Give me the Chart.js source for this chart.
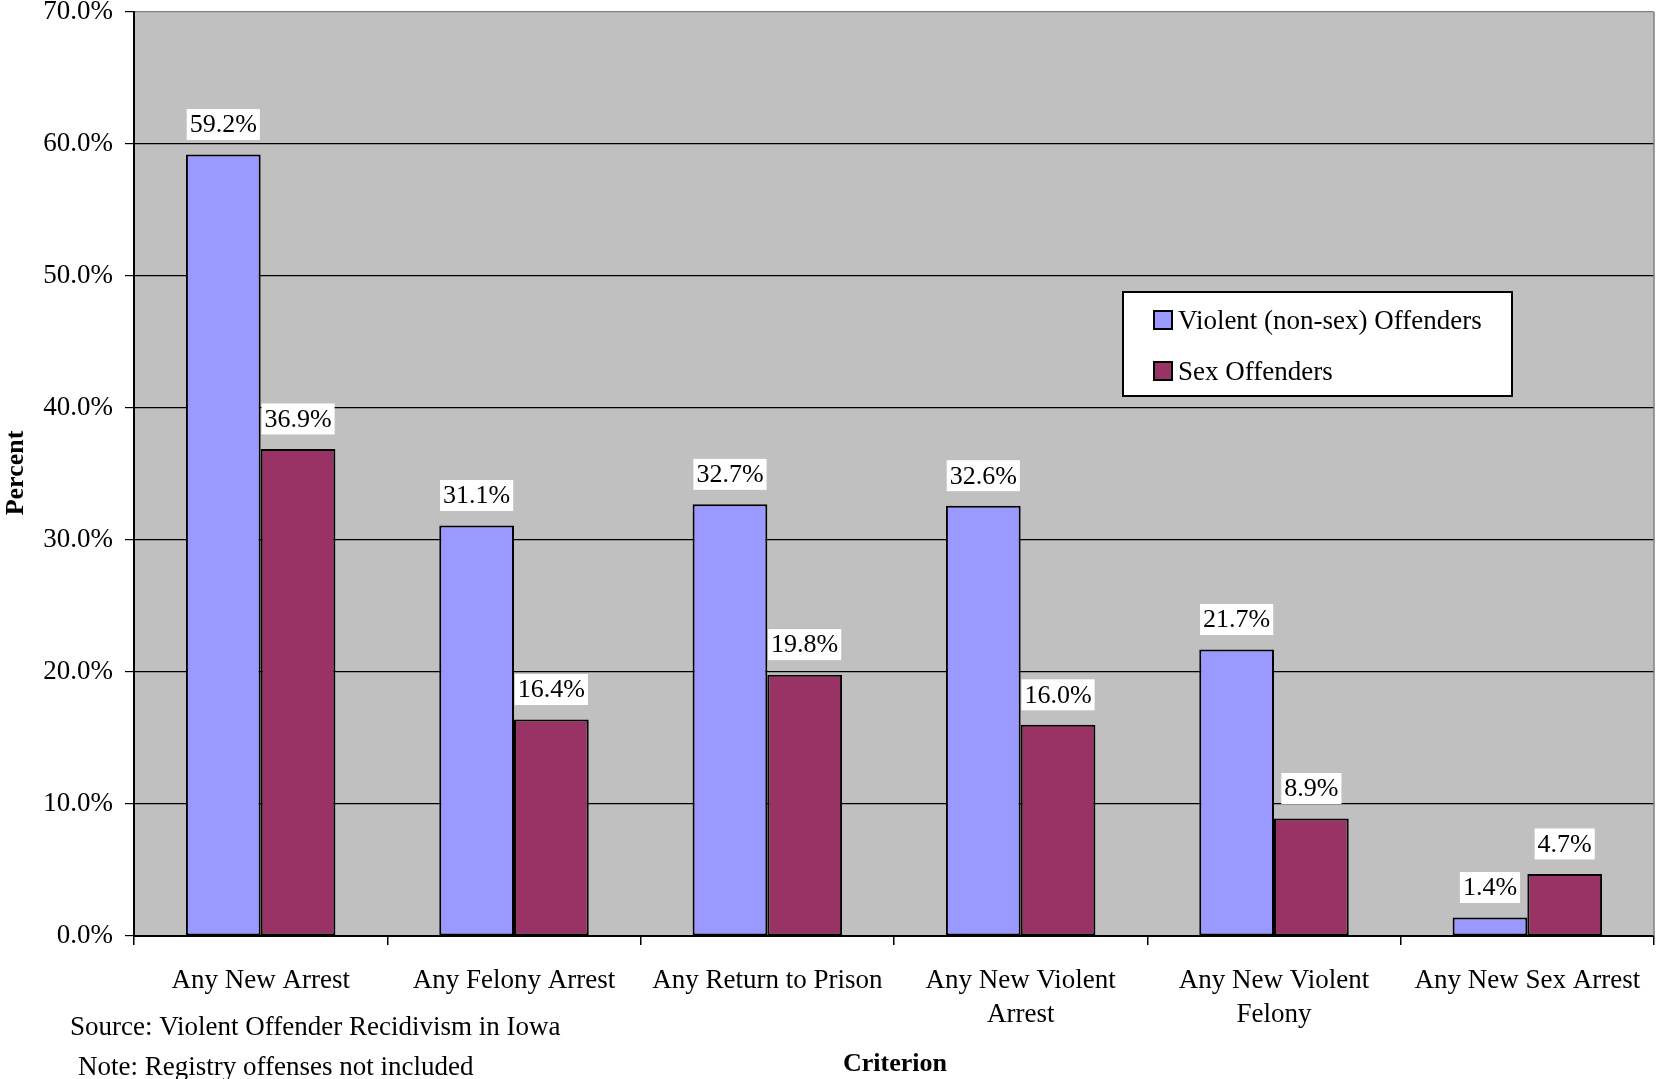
<!DOCTYPE html>
<html lang="en">
<head>
  <meta charset="UTF-8" />
  <title>Violent Offender Recidivism in Iowa</title>
  <script src="https://cdn.jsdelivr.net/npm/chart.js"></script>
  <style>
    body { margin: 0; background: #fff; }
    #wrap { width: 1660px; height: 1079px; }
  </style>
</head>
<body>
<div id="wrap"><canvas id="chart" width="1660" height="1079"></canvas></div>

<script>
  // data
  const categories = ['Any New Arrest', 'Any Felony Arrest', 'Any Return to Prison',
                      ['Any New Violent', 'Arrest'], ['Any New Violent', 'Felony'], 'Any New Sex Arrest'];
  const violentRates = [59.2, 31.1, 32.7, 32.6, 21.7, 1.4];
  const sexRates = [36.9, 16.4, 19.8, 16.0, 8.9, 4.7];
  const seriesNames = ['Violent (non-sex) Offenders', 'Sex Offenders'];
  const yMin = 0, yMax = 70, yStep = 10;

  const SERIF = "'Liberation Serif', 'Times New Roman', serif";

  // grey plot background + right border
  const plotBg = {
    id: 'plotBg',
    beforeDraw(chart) {
      const { ctx, chartArea: a } = chart;
      ctx.save();
      ctx.fillStyle = '#c0c0c0';
      ctx.fillRect(a.left, a.top, a.right - a.left, a.bottom - a.top);
      ctx.restore();
    },
    afterDraw(chart) {
      const { ctx, chartArea: a } = chart;
      ctx.save();
      ctx.strokeStyle = '#808080';
      ctx.lineWidth = 1.5;
      ctx.beginPath();
      ctx.moveTo(a.right, a.top);
      ctx.lineTo(a.right, a.bottom);
      ctx.stroke();
      ctx.restore();
    }
  };

  // value labels on white boxes above bars
  const valueLabels = {
    id: 'valueLabels',
    afterDatasetsDraw(chart) {
      const ctx = chart.ctx;
      ctx.save();
      ctx.font = '26px ' + SERIF;
      ctx.textAlign = 'center';
      ctx.textBaseline = 'middle';
      chart.data.datasets.forEach((ds, i) => {
        chart.getDatasetMeta(i).data.forEach((bar, j) => {
          const txt = ds.data[j].toFixed(1) + '%';
          const w = ctx.measureText(txt).width + 6;
          const cy = bar.y - 30;
          ctx.fillStyle = '#fff';
          ctx.fillRect(bar.x - w / 2, cy - 15.5, w, 31);
          ctx.fillStyle = '#000';
          ctx.fillText(txt, bar.x, cy + 1);
        });
      });
      ctx.restore();
    }
  };

  // boxed legend inside the plot, axis titles and notes
  const extras = {
    id: 'extras',
    afterDraw(chart) {
      const ctx = chart.ctx;
      ctx.save();
      // legend
      const bx = 1123, by = 292, bw = 389, bh = 104;
      ctx.fillStyle = '#fff';
      ctx.fillRect(bx, by, bw, bh);
      ctx.strokeStyle = '#000';
      ctx.lineWidth = 2;
      ctx.strokeRect(bx, by, bw, bh);
      ctx.font = '27px ' + SERIF;
      ctx.textBaseline = 'middle';
      ctx.textAlign = 'left';
      chart.data.datasets.forEach((ds, i) => {
        const cy = 320 + i * 51;
        ctx.fillStyle = ds.backgroundColor;
        ctx.fillRect(1154, cy - 9, 18, 18);
        ctx.lineWidth = 2;
        ctx.strokeRect(1154, cy - 9, 18, 18);
        ctx.fillStyle = '#000';
        ctx.fillText(ds.label, 1178, cy + 2);
      });

      // axis titles
      ctx.font = 'bold 26px ' + SERIF;
      ctx.textAlign = 'center';
      ctx.fillText('Criterion', 895, 1064);
      ctx.save();
      ctx.translate(16, 473);
      ctx.rotate(-Math.PI / 2);
      ctx.fillText('Percent', 0, 0);
      ctx.restore();

      // notes
      ctx.font = '27px ' + SERIF;
      ctx.textAlign = 'left';
      ctx.fillText('Source: Violent Offender Recidivism in Iowa', 70, 1028);
      ctx.fillText('Note: Registry offenses not included', 78, 1068);
      ctx.restore();
    }
  };

  new Chart(document.getElementById('chart'), {
    type: 'bar',
    data: {
      labels: categories,
      datasets: [
        { label: seriesNames[0], data: violentRates, backgroundColor: '#9999ff',
          borderColor: '#000', borderWidth: 2, borderSkipped: false },
        { label: seriesNames[1], data: sexRates, backgroundColor: '#993366',
          borderColor: '#000', borderWidth: 2, borderSkipped: false }
      ]
    },
    options: {
      responsive: false,
      animation: false,
      devicePixelRatio: 1,
      layout: { padding: { top: 0, right: 6, left: 0, bottom: 0 } },
      datasets: { bar: { barPercentage: 1, categoryPercentage: 0.59 } },
      plugins: {
        legend: { display: false },
        tooltip: { enabled: false }
      },
      scales: {
        x: {
          grid: { offset: true, drawOnChartArea: false, color: '#000', lineWidth: 1.5, tickLength: 9 },
          border: { color: '#000', width: 2 },
          ticks: { color: '#000', padding: 19, maxRotation: 0, autoSkip: false,
                   font: { family: SERIF, size: 27, lineHeight: 1.25 } },
          afterFit: s => { s.height = 143; }
        },
        y: {
          min: yMin, max: yMax,
          grid: {
            color: c => (c.tick && c.tick.value === yMax) ? '#808080' : '#000',
            lineWidth: 1.2, tickColor: '#000', tickLength: 9
          },
          border: { color: '#000', width: 2 },
          ticks: { stepSize: yStep, color: '#000', padding: 12,
                   font: { family: SERIF, size: 27, lineHeight: 0.9 },
                   callback: v => v.toFixed(1) + '%' },
          afterFit: s => { s.width = 134; s.paddingTop = 12; s.paddingBottom = 12; }
        }
      }
    },
    plugins: [plotBg, valueLabels, extras]
  });
</script>
</body>
</html>
